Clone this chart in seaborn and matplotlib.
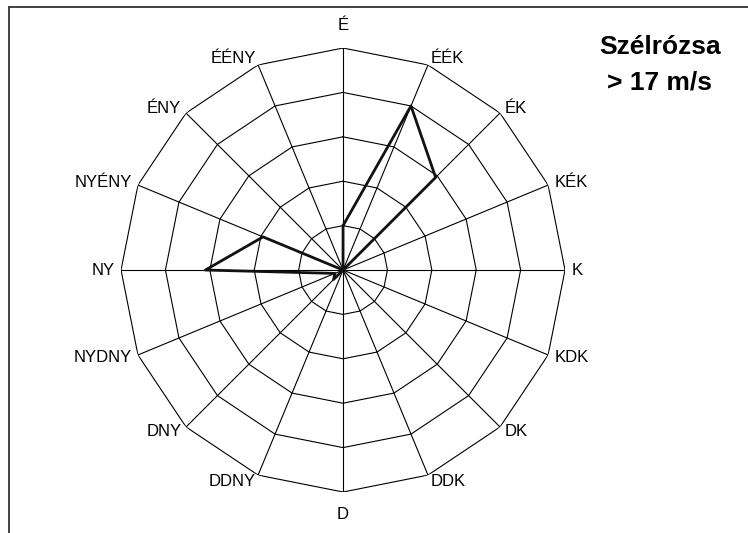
import numpy as np
import pandas as pd
import matplotlib
matplotlib.use("Agg")
import matplotlib.pyplot as plt
from matplotlib.lines import Line2D
import seaborn as sns

# ---- data ----
directions = ["É", "ÉÉK", "ÉK", "KÉK", "K", "KDK", "DK", "DDK",
              "D", "DDNY", "DNY", "NYDNY", "NY", "NYÉNY", "ÉNY", "ÉÉNY"]
values = [1.0, 4.0, 2.95, 0.0, 0.0, 0.0, 0.0, 0.0,
          0.0, 0.0, 0.3, 0.2, 3.1, 1.95, 0.0, 0.0]
rings = [1, 2, 3, 4, 5]
title_lines = ["Szélrózsa", "> 17 m/s"]

sns.set_style("white")
plt.rcParams["font.family"] = ["Liberation Sans", "DejaVu Sans"]

fig = plt.figure(figsize=(7.48, 5.33), dpi=100)
ax = fig.add_axes([0.1618, 0.0769, 0.5936, 0.833], projection="polar")
ax.set_theta_zero_location("N")
ax.set_theta_direction(-1)

n = len(directions)
theta = np.linspace(0, 2 * np.pi, n, endpoint=False)
theta_closed = np.append(theta, theta[0])
rmax = rings[-1]

# polygon grid
for r in rings:
    ax.plot(theta_closed, [r] * (n + 1), color="black", lw=0.8, zorder=1)
for t in theta:
    ax.plot([t, t], [0, rmax], color="black", lw=0.8, zorder=1)

# data line
df = pd.DataFrame({"theta": theta_closed,
                   "value": values + [values[0]],
                   "order": np.arange(n + 1)})
sns.lineplot(data=df, x="theta", y="value", sort=False, estimator=None,
             color="#111111", lw=2.0, ax=ax, zorder=3)

ax.set_ylim(0, rmax)
ax.grid(False)
ax.spines["polar"].set_visible(False)
ax.set_xticks([])
ax.set_yticks([])
ax.set_xlabel("")
ax.set_ylabel("")

# direction labels
for t, lab in zip(theta, directions):
    s, c = np.sin(t), np.cos(t)
    if abs(s) < 0.1:
        ha = "center"
        r = rmax * 1.10
    else:
        ha = "left" if s > 0 else "right"
        r = rmax * 1.03
    ax.text(t, r, lab, ha=ha, va="center", fontsize=12, color="black",
            clip_on=False)

# title
fig.text(0.882, 0.912, title_lines[0], ha="center", va="center",
         fontsize=19, fontweight="bold", color="black")
fig.text(0.882, 0.846, title_lines[1], ha="center", va="center",
         fontsize=19, fontweight="bold", color="black")

# frame (top and left)
fig.add_artist(Line2D([0.012, 1.0], [0.9869, 0.9869], color="#333333", lw=1.3))
fig.add_artist(Line2D([0.012, 0.012], [0.0, 0.9869], color="#333333", lw=1.3))

fig.savefig("out.png", dpi=100)
